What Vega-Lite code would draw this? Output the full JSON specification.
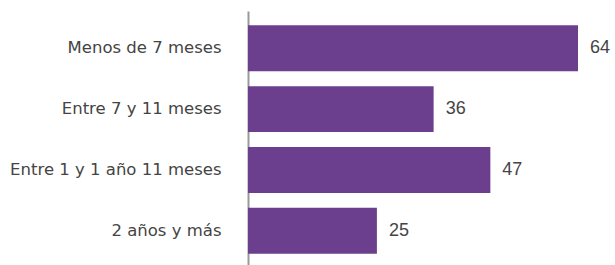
{
  "$schema": "https://vega.github.io/schema/vega-lite/v6.json",
  "autosize": "none",
  "width": 330,
  "height": 254,
  "padding": {"left": 248, "top": 11, "right": 37, "bottom": 0},
  "background": "white",
  "config": {"view": {"stroke": null}},
  "data": {"values": [
    {"categoria": "Menos de 7 meses", "valor": 64},
    {"categoria": "Entre 7 y 11 meses", "valor": 36},
    {"categoria": "Entre 1 y 1 año 11 meses", "valor": 47},
    {"categoria": "2 años y más", "valor": 25}
  ]},
  "encoding": {
    "y": {
      "field": "categoria", "type": "nominal", "sort": null,
      "scale": {"paddingInner": 0.246, "paddingOuter": 0.21, "align": 0.56},
      "axis": {
        "title": null, "ticks": false, "labelPadding": 27,
        "labelFont": "DejaVu Sans", "labelFontSize": 16.5, "labelColor": "#444444",
        "domainColor": "#999999", "domainWidth": 2, "labelLimit": 300
      }
    },
    "x": {
      "field": "valor", "type": "quantitative",
      "scale": {"domain": [0, 64], "nice": false},
      "axis": null
    }
  },
  "layer": [
    {"mark": {"type": "bar", "color": "#6C3F8E"}},
    {
      "mark": {"type": "text", "align": "left", "dx": 12, "font": "Liberation Sans", "fontSize": 18, "color": "#444444"},
      "encoding": {"text": {"field": "valor", "type": "quantitative"}}
    }
  ]
}
